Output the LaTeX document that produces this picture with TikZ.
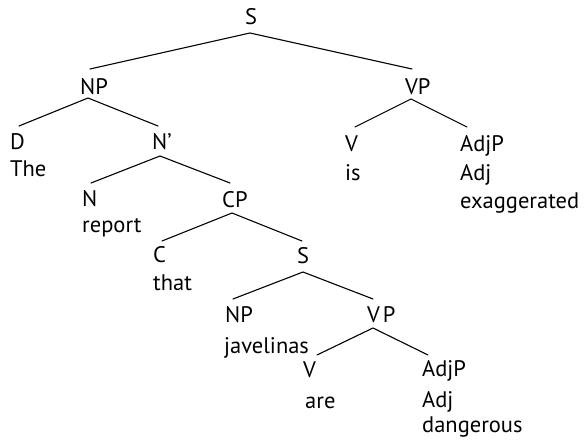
\documentclass[tikz,border=0pt]{standalone}
\usepackage{fontspec}
\setmainfont{PT Sans}
\begin{document}
\begin{tikzpicture}[x=1pt,y=-1pt,
  lbl/.style={anchor=base west,inner sep=0pt,font=\fontsize{22.5}{27}\selectfont},
  br/.style={line width=1.1pt,line cap=round}]
\useasboundingbox (0,0) rectangle (587,443);
% labels
\node[lbl] (S) at (245,25) {S};
\node[lbl] (NP) at (80,95) {NP};
\node[lbl] (VP) at (405,95) {VP};
\node[lbl] (D) at (10,150) {D};
\node[lbl] (The) at (10,177) {The};
\node[lbl] (Nbar) at (152,150) {N’};
\node[lbl] (V1) at (345,152) {V};
\node[lbl] (is) at (345,181) {is};
\node[lbl] (AdjP1) at (460,152) {AdjP};
\node[lbl] (Adj1) at (460,181) {Adj};
\node[lbl] (exag) at (460,209) {exaggerated};
\node[lbl] (N) at (82,207) {N};
\node[lbl] (report) at (82,233) {report};
\node[lbl] (CP) at (222,208) {CP};
\node[lbl] (C) at (153,263) {C};
\node[lbl] (that) at (153,291) {that};
\node[lbl] (S2) at (297,264) {S};
\node[lbl] (NP2) at (225,323) {NP};
\node[lbl] (jav) at (224,354) {javelinas};
\node[lbl] (VP2) at (367,323) {V\hspace{3pt}P};
\node[lbl] (V2) at (303,378) {V};
\node[lbl] (are) at (305,409) {are};
\node[lbl] (AdjP2) at (422,377) {AdjP};
\node[lbl] (Adj2) at (422,408) {Adj};
\node[lbl] (dang) at (422,433) {dangerous};
% branch points
\coordinate (S-b) at (250,33);
\coordinate (NP-t) at (90,69);   \coordinate (NP-b) at (88,98);
\coordinate (VP-t) at (412,69);  \coordinate (VP-b) at (411,99);
\coordinate (D-t) at (19,126);
\coordinate (Nbar-t) at (158,126); \coordinate (Nbar-b) at (160,156);
\coordinate (V1-t) at (355,127);
\coordinate (AdjP1-t) at (467,127);
\coordinate (N-t) at (91,183);
\coordinate (CP-t) at (230,183); \coordinate (CP-b) at (232,213);
\coordinate (C-t) at (162,241);
\coordinate (S2-t) at (302,241); \coordinate (S2-b) at (303,272);
\coordinate (NP2-t) at (233,299);
\coordinate (VP2-t) at (373,299); \coordinate (VP2-b) at (373,328);
\coordinate (V2-t) at (317,355);
\coordinate (AdjP2-t) at (428,355);
% branches
\draw[br] (NP-t) -- (S-b) -- (VP-t);
\draw[br] (D-t) -- (NP-b) -- (Nbar-t);
\draw[br] (V1-t) -- (VP-b) -- (AdjP1-t);
\draw[br] (N-t) -- (Nbar-b) -- (CP-t);
\draw[br] (C-t) -- (CP-b) -- (S2-t);
\draw[br] (NP2-t) -- (S2-b) -- (VP2-t);
\draw[br] (V2-t) -- (VP2-b) -- (AdjP2-t);
\end{tikzpicture}
\end{document}
